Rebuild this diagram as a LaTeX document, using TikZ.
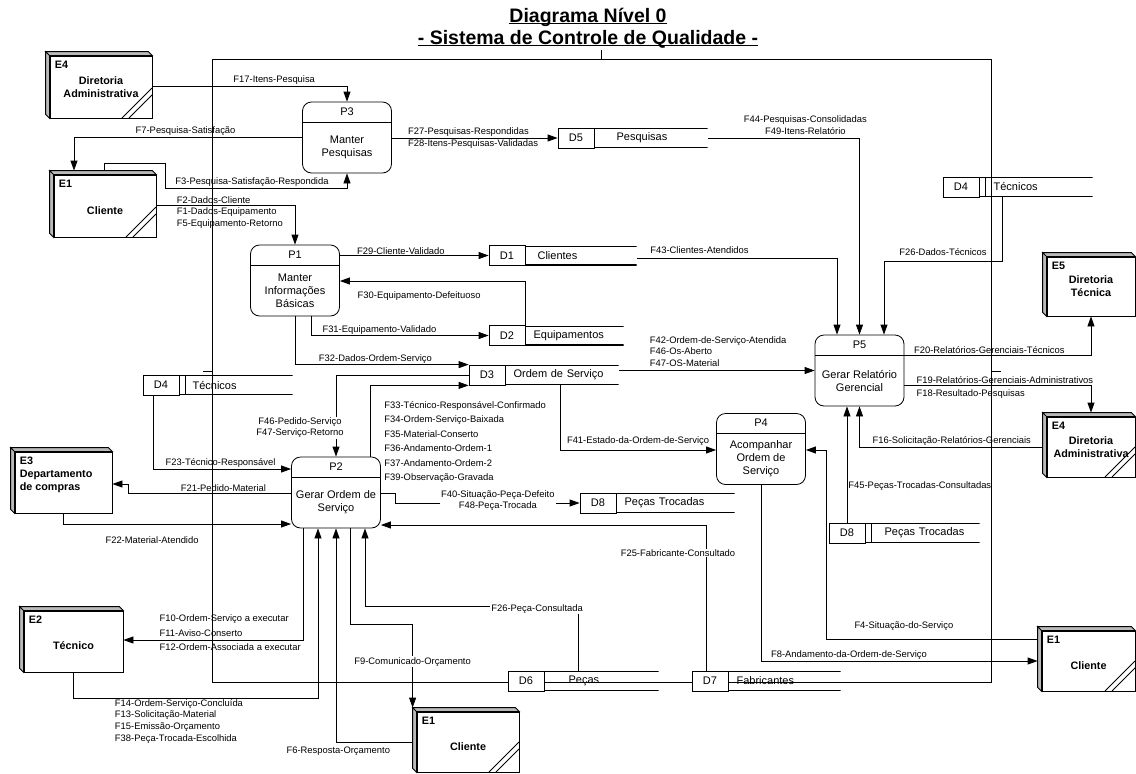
\documentclass[tikz,border=0pt]{standalone}
\usepackage{fontspec}
\setmainfont{Liberation Sans}
\usetikzlibrary{arrows.meta}

\newcommand\titleul[1]{\setbox0\hbox{#1}\rlap{\rule[-1.8pt]{\wd0}{1.3pt}}\box0}
\newcommand\flowfont{\fontsize{9.4}{11.6}\selectfont}
\newcommand\procfont{\fontsize{11}{13}\selectfont}
\newcommand\entfont{\fontsize{10.8}{13}\selectfont\bfseries}

\tikzset{
  flow/.style={draw, line width=0.8pt, -{Triangle[length=10pt,width=7pt]}},
  lbl/.style={font=\flowfont, inner sep=1pt},
  lblw/.style={lbl, fill=white},
  entity/.style={draw, fill=white, line width=0.8pt, font=\entfont, align=center,
    minimum width=102pt, minimum height=62pt, inner sep=2pt,
    append after command={\pgfextra{\draw[line width=0.8pt, fill=gray!55]
      (\tikzlastnode.north west) -- ++(-4pt,4pt) -- ([shift={(-4pt,4pt)}]\tikzlastnode.north east)
        -- (\tikzlastnode.north east) -- cycle
      (\tikzlastnode.north west) -- ++(-4pt,4pt) -- ([shift={(-4pt,4pt)}]\tikzlastnode.south west)
        -- (\tikzlastnode.south west) -- cycle;}}},
  entlow/.style={text height=18pt, text depth=2pt},
  entcut/.style={path picture={\draw[line width=0.8pt]
    ([xshift=-30pt]path picture bounding box.south east) -- ++(30pt,30pt)
    ([xshift=-23pt]path picture bounding box.south east) -- ++(23pt,23pt);}},
  entid/.style={anchor=north west, inner sep=5pt, font=\entfont},
  process/.style={draw, fill=white, line width=0.8pt, rounded corners=9pt,
    minimum width=89pt, minimum height=71pt, inner sep=2pt,
    path picture={\draw[line width=0.8pt]
      ([yshift=-20pt]path picture bounding box.north west) --
      ([yshift=-20pt]path picture bounding box.north east);}},
  pid/.style={anchor=north, inner sep=0pt, yshift=-6pt, font=\procfont},
  pbody/.style={anchor=center, yshift=-10pt, inner sep=0pt, align=center, font=\procfont},
  storeid/.style={draw, fill=white, line width=0.8pt, minimum width=36pt,
    minimum height=20pt, inner sep=0pt, font=\procfont},
  storename/.style={anchor=west, minimum height=20pt, inner ysep=0pt, inner xsep=8pt,
    text width=#1, align=left, font=\procfont,
    path picture={\draw[line width=1.4pt]
      ([yshift=-0.7pt]path picture bounding box.north west) --
      ([yshift=-0.7pt]path picture bounding box.north east)
      ([yshift=0.7pt]path picture bounding box.south west) --
      ([yshift=0.7pt]path picture bounding box.south east);}},
  dupstore/.style={anchor=west, minimum height=20pt, inner ysep=0pt, inner xsep=8pt,
    text width=#1, align=left, font=\procfont,
    path picture={\draw[line width=1.4pt]
      ([yshift=-0.7pt]path picture bounding box.north west) --
      ([yshift=-0.7pt]path picture bounding box.north east)
      ([yshift=0.7pt]path picture bounding box.south west) --
      ([yshift=0.7pt]path picture bounding box.south east);
      \draw[line width=0.8pt] ([xshift=6pt]path picture bounding box.north west) --
      ([xshift=6pt]path picture bounding box.south west);}}
}

\begin{document}
\begin{tikzpicture}[x=1pt, y=-1pt]
\useasboundingbox (0,0) rectangle (1136,774);

% system boundary
\draw[line width=0.8pt] (212,59) rectangle (991,682);
\draw[line width=0.8pt] (601,50) -- (601,59) (203,371) -- (212,371) (991,371) -- (1001,371);

\node[font=\fontsize{19.5}{22}\selectfont\bfseries, align=center] (title) at (588,28)
  {\titleul{Diagrama Nível 0}\\\titleul{- Sistema de Controle de Qualidade -}};

% external entities
\node[entity, entcut, label={[entid]north west:E4}] (e4adm) at (101,87) {Diretoria\\Administrativa};
\node[entity, entcut, entlow, label={[entid]north west:E1}] (e1cli) at (105,206) {Cliente};
\node[entity, minimum width=97pt, minimum height=61pt,
  label={[entid, align=left]north west:E3\\Departamento\\de compras}] (e3comp) at (63.5,482.5) {};
\node[entity, entlow, minimum width=99pt, minimum height=61pt, label={[entid]north west:E2}] (e2tec) at (73.5,641.5) {Técnico};
\node[entity, entcut, entlow, minimum height=60pt, label={[entid]north west:E1}] (e1cliB) at (468,742) {Cliente};
\node[entity, minimum width=88pt, minimum height=59pt, label={[entid]north west:E5}] (e5tec) at (1091,286.5) {Diretoria\\Técnica};
\node[entity, entcut, minimum width=88pt, minimum height=60pt, label={[entid]north west:E4}] (e4admB) at (1091,447) {Diretoria\\Administrativa};
\node[entity, entcut, entlow, minimum width=93pt, minimum height=60pt, label={[entid]north west:E1}] (e1cliC) at (1088.5,661) {Cliente};

% processes
\node[process, label={[pid]north:P3}, label={[pbody]center:Manter\\Pesquisas}] (p3) at (347,137.5) {};
\node[process, label={[pid]north:P1}, label={[pbody]center:Manter\\Informações\\Básicas}] (p1) at (295,280.5) {};
\node[process, label={[pid]north:P2}, label={[pbody]center:Gerar Ordem de\\Serviço}] (p2) at (336,492.5) {};
\node[process, label={[pid]north:P4}, label={[pbody]center:Acompanhar\\Ordem de\\Serviço}] (p4) at (761,449) {};
\node[process, label={[pid]north:P5}, label={[pbody]center:Gerar Relatório\\Gerencial}] (p5) at (859.5,370.5) {};

% data stores
\node[storeid] (d5) at (576,138) {D5};
\node[storename=97pt] (d5n) at (d5.east) {\hspace*{14pt}Pesquisas};
\node[storeid] (d1) at (507,255.5) {D1};
\node[storename=95pt] (d1n) at (d1.east) {\hspace*{4pt}Clientes};
\node[storeid] (d2) at (507,335.5) {D2};
\node[storename=82pt] (d2n) at (d2.east) {Equipamentos};
\node[storeid] (d3) at (487,375) {D3};
\node[storename=97pt] (d3n) at (d3.east) {Ordem de Serviço};
\node[storeid] (d4a) at (161,385) {D4};
\node[dupstore=97pt] (d4an) at (d4a.east) {\hspace*{5pt}Técnicos};
\node[storeid] (d4b) at (961,187) {D4};
\node[dupstore=97pt] (d4bn) at (d4b.east) {\hspace*{6pt}Técnicos};
\node[storeid] (d8a) at (598,503) {D8};
\node[storename=102pt] (d8an) at (d8a.east) {Peças Trocadas};
\node[storeid] (d8b) at (847,533) {D8};
\node[dupstore=98pt] (d8bn) at (d8b.east) {\hspace*{11pt}Peças Trocadas};
\node[storeid] (d6) at (526,681) {D6};
\node[storename=98pt] (d6n) at (d6.east) {\hspace*{16pt}Peças};
\node[storeid] (d7) at (710,681) {D7};
\node[storename=96pt] (d7n) at (d7.east) {Fabricantes};

% flows of P3
\draw[flow] (e4adm.east |- 0,86) -- node[lbl, above, pos=0.626] {F17-Itens-Pesquisa} (p3.north |- 0,86) -- (p3.north);
\draw[flow] (p3.west |- 0,137) -- node[lbl, above, pos=0.511] {F7-Pesquisa-Satisfação} (74,137) -- ([yshift=4pt]74,0 |- e1cli.north);
\draw[flow] ([yshift=4pt]104,0 |- e1cli.north) -- (104,163) -- (165,163) -- (165,188)
  -- node[lbl, above, pos=0.478] {F3-Pesquisa-Satisfação-Respondida} (p3.south |- 0,188) -- (p3.south);
\draw[flow] (p3.east |- d5.west) -- node[lbl, anchor=west, align=left, pos=0.09]
  {F27-Pesquisas-Respondidas\\F28-Itens-Pesquisas-Validadas} (d5.west);

% flows of P1
\draw[flow] (e1cli.east |- 0,205) -- node[lbl, anchor=west, align=left, pos=0.137, yshift=-7.5pt]
  {F2-Dados-Cliente\\F1-Dados-Equipamento\\F5-Equipamento-Retorno} (p1.north |- 0,205) -- (p1.north);
\draw[flow] (p1.east |- d1.west) -- node[lbl, above, pos=0.41] {F29-Cliente-Validado} (d1.west);
\draw[flow] (d2.north east) -- (d2.north east |- 0,281) -- node[lbl, below, pos=0.573, yshift=-9.5pt]
  {F30-Equipamento-Defeituoso} (p1.east |- 0,281);
\draw[flow] (311,0 |- p1.south) -- (311,0 |- d2.west) -- node[lbl, above, pos=0.385] {F31-Equipamento-Validado} (d2.west);
\draw[flow] (p1.south) -- (p1.south |- d3.north west) -- node[lbl, above, pos=0.463] {F32-Dados-Ordem-Serviço} (d3.north west);

% flows of P2
\draw[flow] (d3.west) -- (p2.north |- d3.west) -- node[lblw, align=center, pos=0.646, xshift=-36pt]
  {F46-Pedido-Serviço\\F47-Serviço-Retorno} (p2.north);
\draw[flow] (370,0 |- p2.north) -- node[lbl, anchor=west, align=left, pos=0.208, xshift=13pt, font=\fontsize{9.4}{14.5}\selectfont]
  {F33-Técnico-Responsável-Confirmado\\F34-Ordem-Serviço-Baixada\\F35-Material-Conserto\\F36-Andamento-Ordem-1\\F37-Andamento-Ordem-2\\F39-Observação-Gravada}
  (370,0 |- d3.south west) -- (d3.south west);
\draw[flow] (153,0 |- d4a.south) -- (153,469) -- node[lbl, above, pos=0.489] {F23-Técnico-Responsável} (p2.west |- 0,469);
\draw[flow] (p2.west |- 0,493) -- node[lbl, above, pos=0.415] {F21-Pedido-Material} (128,493) -- (128,484) -- (e3comp.east |- 0,484);
\draw[flow] (e3comp.south) -- (e3comp.south |- 0,524) -- node[lbl, below, pos=0.389, yshift=-11.5pt]
  {F22-Material-Atendido} (p2.west |- 0,524);
\draw[flow] (303,0 |- p2.south) -- (303,640) -- node[lbl, anchor=west, align=left, pos=0.806, yshift=7pt, font=\fontsize{9.4}{14.5}\selectfont]
  {F10-Ordem-Serviço a executar\\F11-Aviso-Conserto\\F12-Ordem-Associada a executar} (e2tec.east |- 0,640);
\draw[flow] (e2tec.south) -- (e2tec.south |- 0,698) -- node[lbl, anchor=north west, align=left, pos=0.164]
  {F14-Ordem-Serviço-Concluída\\F13-Solicitação-Material\\F15-Emissão-Orçamento\\F38-Peça-Trocada-Escolhida}
  (318,698) -- (318,0 |- p2.south);
\draw[flow] ([xshift=-4pt]e1cliB.west) -- node[lbl, below, pos=0.97, yshift=-3.5pt] {F6-Resposta-Orçamento}
  (p2.south |- e1cliB.west) -- (p2.south);
\draw[flow] (350,0 |- p2.south) -- (350,624) -- ([xshift=-4pt]e1cliB.north west |- 0,624)
  -- node[lblw, pos=0.452] {F9-Comunicado-Orçamento} ([xshift=-4pt,yshift=4pt]e1cliB.north west);
\draw[flow] (578,0 |- d6n.north) -- (578,606) -- node[lblw, pos=0.192, yshift=-3pt] {F26-Peça-Consultada}
  (365,606) -- (365,0 |- p2.south);
\draw[flow] (706,0 |- d7.north) -- node[lblw, pos=0.808, xshift=-28pt] {F25-Fabricante-Consultado}
  (706,525) -- (p2.east |- 0,525);
\draw[flow] (p2.east |- 0,493) -- (395,493) -- (395,503) -- node[lblw, align=center, pos=0.557, yshift=2.5pt]
  {F40-Situação-Peça-Defeito\\F48-Peça-Trocada} (d8a.west);

% flows of P4
\draw[flow] (560,0 |- d3n.south) -- (560,450) -- node[lbl, above, pos=0.5, yshift=3.5pt]
  {F41-Estado-da-Ordem-de-Serviço} (p4.west |- 0,450);
\draw[flow] ([xshift=-4pt]e1cliC.west |- 0,639) -- node[lbl, above, pos=0.632, yshift=7.5pt] {F4-Situação-do-Serviço}
  (826,639) -- (826,450) -- (p4.east |- 0,450);
\draw[flow] (p4.south) -- (p4.south |- e1cliC.west) -- node[lbl, above, pos=0.318]
  {F8-Andamento-da-Ordem-de-Serviço} ([xshift=-4pt]e1cliC.west);

% flows of P5
\draw[flow] (d3n.east |- p5.west) -- node[lbl, anchor=south west, align=left, pos=0.152, yshift=2.5pt]
  {F42-Ordem-de-Serviço-Atendida\\F46-Os-Aberto\\F47-OS-Material} (p5.west);
\draw[flow] (d1n.east |- 0,258) -- node[lbl, above, pos=0.313, yshift=3.5pt] {F43-Clientes-Atendidos}
  (837,258) -- (837,0 |- p5.north);
\draw[flow] (d5n.east) -- node[lbl, above, align=center, pos=0.643, yshift=2.5pt]
  {F44-Pesquisas-Consolidadas\\F49-Itens-Relatório} (p5.north |- d5n.east) -- (p5.north);
\draw[flow] (1002,0 |- d4bn.south) -- (1002,261) -- node[lbl, above, pos=0.5, yshift=4.5pt] {F26-Dados-Técnicos}
  (884,261) -- (884,0 |- p5.north);
\draw[flow] (p5.east |- 0,355) -- node[lbl, above, pos=0.455] {F20-Relatórios-Gerenciais-Técnicos}
  (e5tec.south |- 0,355) -- (e5tec.south);
\draw[flow] (p5.east |- 0,385) -- node[lbl, anchor=west, align=left, pos=0.058, yshift=-2.5pt, font=\fontsize{9.4}{13}\selectfont]
  {F19-Relatórios-Gerenciais-Administrativos\\F18-Resultado-Pesquisas} (e4admB.north |- 0,385) -- ([yshift=4pt]e4admB.north);
\draw[flow] ([xshift=-4pt]e4admB.west) -- node[lbl, above, pos=0.496] {F16-Solicitação-Relatórios-Gerenciais}
  (p5.south |- e4admB.west) -- (p5.south);
\draw[flow] (d8b.north) -- node[lbl, anchor=west, pos=0.316] {F45-Peças-Trocadas-Consultadas} (d8b.north |- p5.south);
\end{tikzpicture}
\end{document}
